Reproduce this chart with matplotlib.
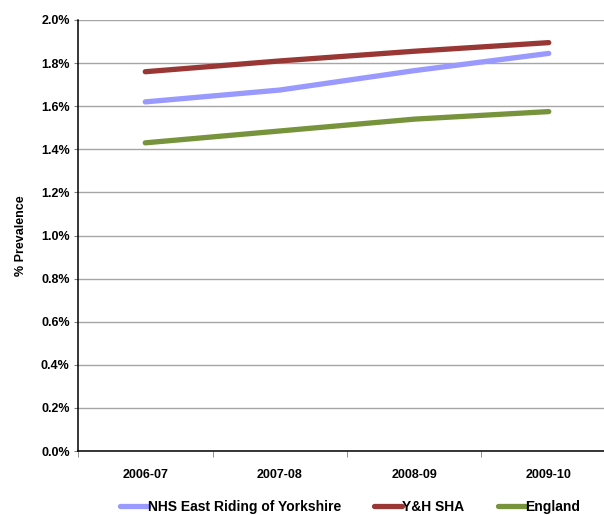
import matplotlib
matplotlib.use("Agg")
import matplotlib.pyplot as plt
from matplotlib.ticker import FuncFormatter, FixedLocator

plt.rcParams['font.family'] = ['Liberation Sans', 'DejaVu Sans']
plt.rcParams['font.weight'] = 'bold'

years = ["2006-07", "2007-08", "2008-09", "2009-10"]
east_riding = [1.62, 1.675, 1.765, 1.845]
yh_sha = [1.76, 1.81, 1.855, 1.895]
england = [1.43, 1.485, 1.54, 1.575]

series = [
    ("NHS East Riding of Yorkshire", east_riding, "#9999FF"),
    ("Y&H SHA", yh_sha, "#993735"),
    ("England", england, "#77933C"),
]

fig = plt.figure(figsize=(6.04, 5.15), dpi=100)
ax = fig.add_axes([78 / 604, 64 / 515, 538 / 604, 431 / 515])

x = list(range(len(years)))
for name, vals, col in series:
    ax.plot(x, vals, color=col, lw=3.8, solid_capstyle='round',
            solid_joinstyle='round', label=name, zorder=3)

ax.set_xlim(-0.5, len(years) - 0.5)
ax.set_ylim(0, 2.0)
ax.set_yticks([i * 0.2 for i in range(11)])
ax.yaxis.set_major_formatter(FuncFormatter(lambda v, p: f"{v:.1f}%"))
ax.grid(axis='y', color='#A6A6A6', lw=1.0, zorder=0)
ax.set_axisbelow(True)

ax.set_xticks(x)
ax.set_xticklabels(years)
ax.xaxis.set_minor_locator(FixedLocator([i - 0.5 for i in range(len(years) + 1)]))
ax.tick_params(axis='x', which='major', length=0, pad=13, labelsize=9)
ax.tick_params(axis='x', which='minor', length=4, color='#808080', direction='out')
ax.tick_params(axis='y', length=3, pad=3, labelsize=9, color='#808080')

for side in ('top', 'right'):
    ax.spines[side].set_visible(False)
ax.spines['left'].set_color('black')
ax.spines['bottom'].set_color('black')
ax.spines['left'].set_linewidth(1.1)
ax.spines['bottom'].set_linewidth(1.1)

ax.set_ylabel("% Prevalence", fontsize=9, fontweight='bold', labelpad=14)
ax.yaxis.set_label_coords(-0.095, 0.5)

leg = fig.legend(loc='center', bbox_to_anchor=(0.58, 0.015), ncol=3,
                 frameon=False, fontsize=10, handlelength=2.0,
                 handletextpad=0.0, columnspacing=2.4, borderaxespad=0)
for t in leg.get_texts():
    t.set_fontweight('bold')

fig.savefig("out.png", dpi=100)
